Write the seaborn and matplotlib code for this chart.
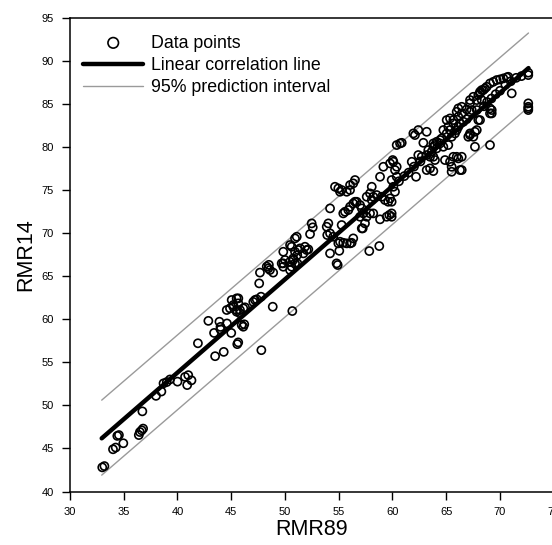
import matplotlib
matplotlib.use("Agg")
import matplotlib.pyplot as plt
import seaborn as sns
import pandas as pd

sns.set_theme(style="ticks")
plt.rcParams['font.family'] = ['Liberation Sans', 'DejaVu Sans']
plt.rcParams['text.color'] = 'black'
plt.rcParams['axes.labelcolor'] = 'black'

# ---- data points (RMR89, RMR14) ----
rmr89 = [
    33.0, 33.2, 34.0, 34.25, 34.4, 34.55, 34.96, 36.5, 36.67, 36.8, 36.4, 36.73,
    38.0, 38.5, 38.7, 39.0, 39.3, 40.0, 40.7, 40.9, 41.3, 41.0, 41.9, 43.5, 44.3,
    45.56, 45.65, 47.8, 42.87, 43.4, 44.0, 43.9, 44.0, 44.6, 45.0, 44.58, 44.88,
    45.04, 45.66, 45.19, 45.5, 45.81, 46.12, 46.28, 45.97, 46.12, 46.21, 47.05,
    47.37, 47.77, 47.6, 47.67, 48.9, 48.6, 48.3, 48.5, 48.86, 50.68,
    45.19, 45.5, 45.66, 45.5, 45.81, 48.45, 49.84, 50.62, 50.77, 50.93, 51.15,
    50.93, 51.09, 50.47, 51.24, 51.4, 51.86, 52.02, 51.71, 49.84, 49.69, 49.84,
    50.0, 50.47, 50.77, 50.93, 50.47, 50.62, 47.21, 52.33, 52.48, 52.58, 55.12,
    56.05, 54.9, 54.8, 54.19, 55.05, 54.96, 55.42, 55.74, 56.2, 56.35, 57.84,
    58.77, 57.23, 58.84, 59.7, 59.46, 51.14, 52.17, 54.19, 53.88, 54.03, 53.93,
    54.19, 54.49, 55.27, 55.42, 55.58, 55.89, 56.35, 56.67, 56.98, 57.14, 57.28,
    57.6, 57.91, 57.44, 57.14, 58.07, 58.21, 58.53, 59.0, 59.3, 59.6, 59.77,
    55.12, 55.74, 56.05, 54.65, 54.96, 55.27, 56.05, 56.51, 56.35, 56.05, 56.51,
    57.6, 57.91, 58.07, 58.84, 59.15, 59.77, 60.39, 58.21, 56.98, 61.94, 62.4,
    63.8, 63.95, 64.42, 64.11, 64.73, 63.33, 63.64, 63.18, 63.49, 64.73, 65.19,
    65.66, 67.21, 67.52, 68.14, 68.45, 68.76, 66.12, 66.44, 66.9, 68.6, 69.07,
    59.92, 59.92, 59.92, 60.23, 60.08, 60.02, 62.19, 63.18, 63.49, 63.8, 63.95,
    63.8, 62.4, 62.72, 61.79, 64.88, 65.35, 65.5, 65.66, 65.97, 66.12, 65.5,
    66.28, 62.09, 63.18, 62.87, 60.39, 60.7, 60.86, 63.8, 64.11, 64.42, 64.58,
    65.04, 65.35, 65.19, 65.5, 65.81, 65.97, 66.12, 66.28, 65.04, 65.35, 65.66,
    66.12, 65.97, 66.44, 67.21, 67.37, 67.84, 67.98, 67.21, 67.52, 67.84, 69.07,
    67.67, 69.07, 59.92, 60.08, 60.39, 60.23,
    72.63, 72.63, 72.63, 72.63, 72.63, 72.63, 71.09, 69.07, 69.38, 69.69, 70.0,
    70.31, 70.62, 70.77, 68.14, 68.3, 67.98, 67.21, 67.84, 68.3, 69.23, 69.23,
    68.14, 67.67, 67.21, 67.05, 66.44, 66.44,
    60.6, 61.1, 61.5, 62.0, 62.6, 66.6, 66.9, 68.5, 68.8, 69.2, 69.6, 70.0,
    70.5, 71.0, 71.5, 72.0,
]
rmr14 = [
    42.8, 42.95, 44.9, 45.1, 46.45, 46.55, 45.6, 46.9, 47.1, 47.3, 46.55, 49.3,
    51.1, 51.6, 52.55, 52.7, 53.0, 52.75, 53.3, 52.35, 52.9, 53.5, 57.2, 55.7, 56.2,
    57.1, 57.3, 56.4, 59.8, 58.4, 58.8, 59.7, 59.1, 59.5, 58.4, 61.06, 61.25,
    62.22, 62.41, 61.64, 61.06, 61.06, 61.25, 61.37, 59.32, 59.12, 59.4, 62.0,
    62.3, 62.6, 64.15, 65.4, 65.4, 65.7, 66.1, 66.3, 61.44, 60.94,
    61.44, 60.86, 61.83, 62.41, 60.67, 65.89, 66.47, 68.4, 67.05, 67.82, 66.47,
    69.37, 69.56, 68.6, 68.02, 68.21, 68.4, 68.02, 67.63, 67.82, 66.47, 66.08,
    66.86, 66.66, 66.86, 66.47, 65.7, 66.08, 62.22, 69.87, 71.11, 70.65, 68.98,
    68.79, 66.28, 66.47, 67.63, 67.93, 68.79, 68.86, 68.79, 68.86, 69.37, 67.9,
    68.48, 70.53, 71.58, 72.08, 71.88, 67.44, 68.1, 72.85, 70.72, 71.11, 69.76,
    69.95, 69.56, 70.92, 72.27, 72.46, 72.66, 73.43, 73.62, 73.24, 72.85, 72.27,
    71.88, 72.27, 71.11, 70.53, 73.82, 74.2, 74.4, 74.2, 73.82, 73.62, 74.01,
    74.78, 74.78, 74.98, 75.36, 75.17, 74.98, 75.56, 76.14, 75.75, 73.04, 73.62,
    74.2, 74.59, 75.36, 76.52, 77.68, 78.07, 77.68, 72.27, 71.88, 81.55, 81.94,
    80.0, 80.2, 80.39, 79.81, 80.0, 79.62, 79.42, 79.04, 78.84, 81.94, 82.32,
    82.71, 85.42, 85.8, 86.2, 86.58, 86.96, 84.45, 84.64, 84.34, 86.77, 84.45,
    71.88, 72.27, 73.62, 77.3, 78.26, 78.46, 76.52, 77.3, 77.49, 77.18, 78.46,
    78.84, 79.04, 78.84, 78.26, 78.46, 78.26, 77.68, 78.84, 78.84, 78.65, 77.1,
    77.3, 81.36, 81.74, 80.46, 80.2, 80.39, 80.46, 80.39, 80.58, 80.78, 80.97,
    81.55, 81.94, 80.2, 81.16, 81.55, 81.94, 82.32, 82.71, 83.1, 83.29, 83.1,
    83.48, 84.06, 83.87, 84.06, 84.26, 84.26, 83.1, 81.55, 81.16, 81.94, 83.87,
    80.0, 80.2, 76.14, 75.36, 76.52, 74.78,
    88.32, 88.6, 85.04, 84.46, 84.64, 84.26, 86.2, 87.35, 87.54, 87.74, 87.82,
    87.93, 88.05, 88.12, 86.38, 86.58, 86.0, 85.04, 85.42, 85.42, 84.26, 83.87,
    83.1, 81.74, 81.36, 81.16, 78.84, 77.3,
    76.0, 76.6, 77.0, 77.7, 78.3, 82.9, 83.2, 84.7, 85.2, 85.6, 86.1, 86.5,
    87.2, 87.6, 88.0, 88.2,
]

# ---- fitted line and 95% prediction interval ----
fit_x = [32.95, 72.65]
fit_y = [46.17, 89.13]
pi_upper_y = [50.6, 93.2]
pi_lower_y = [41.9, 84.6]

x_ticks = [30, 35, 40, 45, 50, 55, 60, 65, 70, 75]
y_ticks = [40, 45, 50, 55, 60, 65, 70, 75, 80, 85, 90, 95]

df = pd.DataFrame({"RMR89": rmr89, "RMR14": rmr14})
lines = pd.DataFrame({"x": fit_x, "fit": fit_y, "up": pi_upper_y, "lo": pi_lower_y})

W, H = 552, 545
fig = plt.figure(figsize=(W / 100, H / 100), dpi=100)
left, right, top, bottom = 70, 553.75, 17.5, 491.5
ax = fig.add_axes([left / W, 1 - bottom / H, (right - left) / W, (bottom - top) / H])

sns.lineplot(data=lines, x="x", y="up", ax=ax, color="#9a9a9a", linewidth=1.0,
             label="95% prediction interval", zorder=1)
sns.lineplot(data=lines, x="x", y="lo", ax=ax, color="#9a9a9a", linewidth=1.0,
             label="_nolegend_", zorder=1)
sns.scatterplot(data=df, x="RMR89", y="RMR14", ax=ax, marker="o", s=34,
                facecolor="none", edgecolor="black", linewidth=1.2,
                label="Data points", zorder=2)
sns.lineplot(data=lines, x="x", y="fit", ax=ax, color="black", linewidth=3.2,
             label="Linear correlation line", zorder=3)

ax.set_xlim(30, 75)
ax.set_ylim(40, 95)
ax.set_xticks(x_ticks)
ax.set_yticks(y_ticks)
ax.tick_params(direction="out", length=5.5, width=1.0, labelsize=8, pad=6,
               colors="black")
for s in ax.spines.values():
    s.set_linewidth(1.1)
    s.set_color("black")
ax.set_xlabel("RMR89", fontsize=15.5, labelpad=1, color="black")
ax.set_ylabel("RMR14", fontsize=15.5, labelpad=4, color="black")

handles, labels = ax.get_legend_handles_labels()
order = ["Data points", "Linear correlation line", "95% prediction interval"]
hmap = dict(zip(labels, handles))
leg = ax.legend([hmap[k] for k in order], order, loc="upper left",
                bbox_to_anchor=(83 / W, 1 - 34.5 / H), bbox_transform=fig.transFigure,
                frameon=False, fontsize=12.8, handlelength=3.4, handletextpad=0.4,
                labelspacing=0.3, borderpad=0, borderaxespad=0, markerscale=1.3)
for t in leg.get_texts():
    t.set_color("black")

fig.savefig("out.png", dpi=100)
